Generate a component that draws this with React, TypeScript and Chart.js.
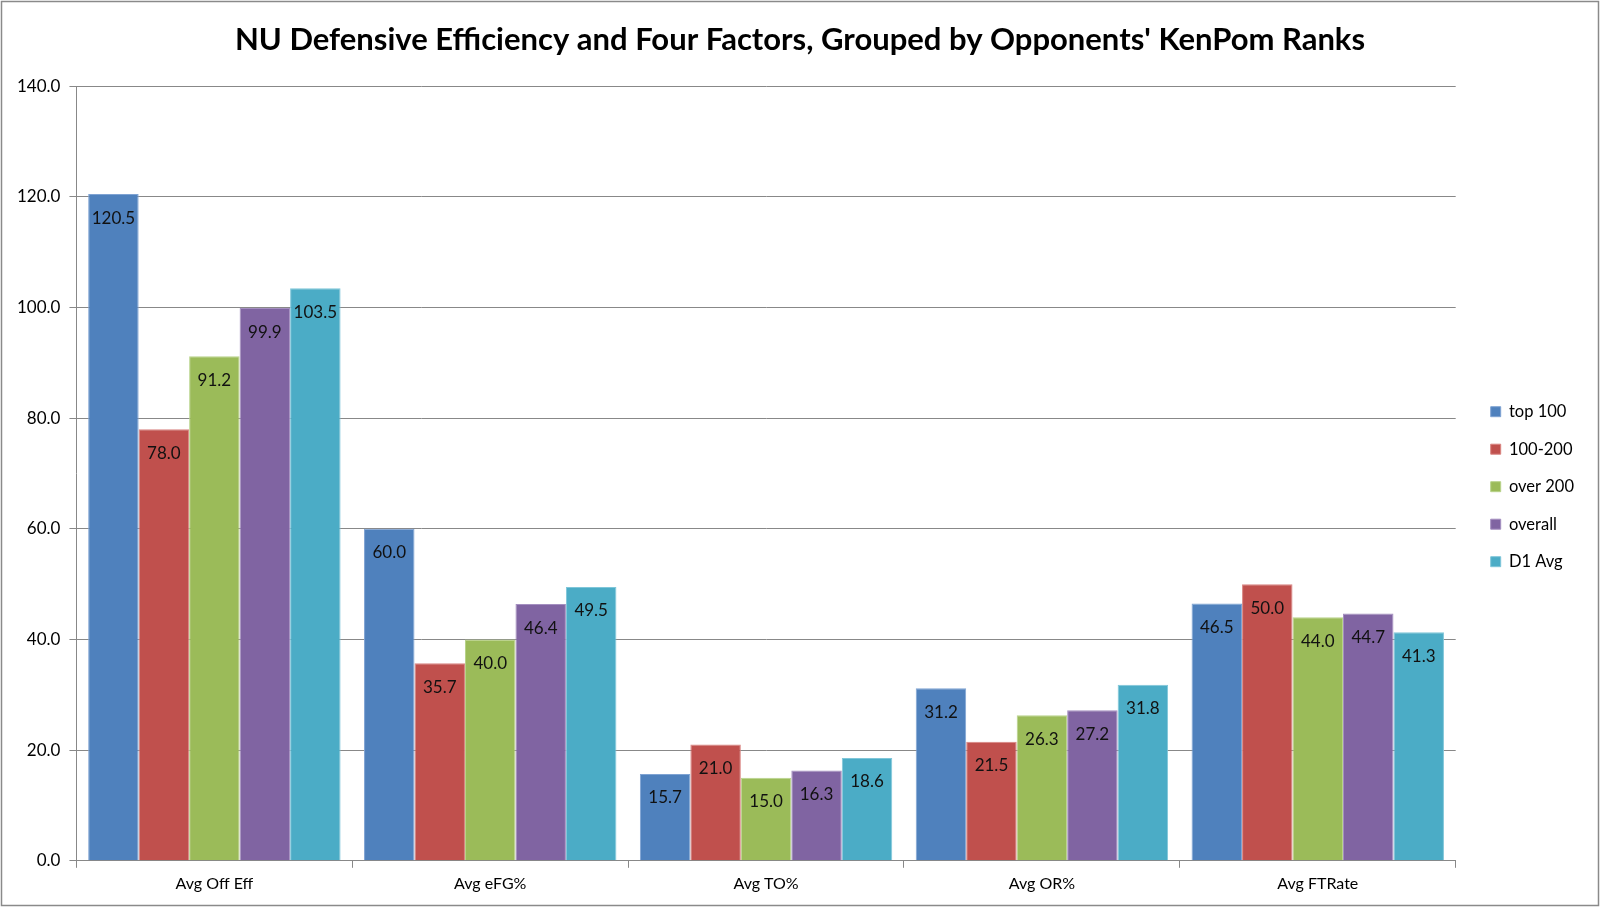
import { useEffect, useRef } from 'react';
import { Chart, registerables } from 'chart.js';

Chart.register(...registerables);

const categories = ['Avg Off Eff', 'Avg eFG%', 'Avg TO%', 'Avg OR%', 'Avg FTRate'];
const seriesNames = ['top 100', '100-200', 'over 200', 'overall', 'D1 Avg'];
const top100 = [120.5, 60.0, 15.7, 31.2, 46.5];
const mid100to200 = [78.0, 35.7, 21.0, 21.5, 50.0];
const over200 = [91.2, 40.0, 15.0, 26.3, 44.0];
const overall = [99.9, 46.4, 16.3, 27.2, 44.7];
const d1Avg = [103.5, 49.5, 18.6, 31.8, 41.3];
const colors = ['#4F81BD', '#C0504D', '#9BBB59', '#8064A2', '#4BACC6'];
const edgeColors = ['#7FA3D3', '#D98481', '#B8D38A', '#A48FC0', '#7FC6D9'];

const FONT = 'Lato, "Open Sans", sans-serif';

// value labels drawn just below the top of each bar
const barLabels = {
  id: 'barLabels',
  afterDatasetsDraw(chart: Chart) {
    const ctx = chart.ctx;
    ctx.save();
    ctx.font = `17px ${FONT}`;
    ctx.fillStyle = '#111';
    ctx.textAlign = 'center';
    ctx.textBaseline = 'middle';
    chart.data.datasets.forEach((ds, i) => {
      chart.getDatasetMeta(i).data.forEach((bar: any, j) => {
        const v = ds.data[j] as number;
        ctx.fillText(v.toFixed(1), bar.x, bar.y + 24);
      });
    });
    ctx.restore();
  },
};

// nudge legend right and centre the title on the whole canvas, like the original
const boxShift = {
  id: 'boxShift',
  afterUpdate(chart: Chart) {
    const lg: any = (chart as any).legend;
    if (lg) {
      lg.left += 14;
      lg.right += 14;
    }
    const t: any = (chart as any).titleBlock;
    if (t) {
      t.left += 11;
      t.right += 11;
    }
  },
};

const frame = {
  id: 'frame',
  afterDraw(chart: Chart) {
    const ctx = chart.ctx;
    ctx.save();
    ctx.strokeStyle = '#8a8a8a';
    ctx.lineWidth = 1.5;
    ctx.strokeRect(1.5, 1.5, chart.width - 3, chart.height - 3);
    ctx.restore();
  },
};

export default function App() {
  const canvasRef = useRef<HTMLCanvasElement>(null);
  const chartRef = useRef<Chart | null>(null);

  useEffect(() => {
    document.body.style.margin = '0';
    if (!canvasRef.current) return;
    if (chartRef.current) chartRef.current.destroy();

    const series = [top100, mid100to200, over200, overall, d1Avg];

    chartRef.current = new Chart(canvasRef.current, {
      type: 'bar',
      data: {
        labels: categories,
        datasets: series.map((data, i) => ({
          label: seriesNames[i],
          data,
          backgroundColor: colors[i],
          borderColor: edgeColors[i],
          borderWidth: 1,
          barPercentage: 1,
          categoryPercentage: 0.915,
        })),
      },
      options: {
        responsive: true,
        maintainAspectRatio: false,
        animation: false,
        layout: { padding: { left: 8, right: 30, top: 8, bottom: 8 } },
        plugins: {
          title: {
            display: true,
            text: "NU Defensive Efficiency and Four Factors, Grouped by Opponents' KenPom Ranks",
            color: '#000',
            font: { family: FONT, size: 31, weight: 'bold' },
            padding: { top: 13, bottom: 28 },
          },
          legend: {
            position: 'right',
            title: { display: true, text: ' ', font: { size: 2 }, padding: { top: 32, bottom: 32 } },
            labels: {
              boxWidth: 10,
              boxHeight: 10,
              padding: 21,
              color: '#000',
              font: { family: FONT, size: 16.5 },
            },
          },
          tooltip: { enabled: false },
        },
        scales: {
          x: {
            grid: {
              display: true,
              offset: true,
              drawOnChartArea: false,
              drawTicks: true,
              tickLength: 7,
              color: '#888',
            },
            border: { color: '#888' },
            ticks: { color: '#000', padding: 6, font: { family: FONT, size: 16 } },
          },
          y: {
            min: 0,
            max: 140,
            ticks: {
              stepSize: 20,
              color: '#000',
              padding: 9,
              font: { family: FONT, size: 17 },
              callback: (v) => Number(v).toFixed(1),
            },
            grid: { color: '#888', tickLength: 7 },
            border: { color: '#888' },
          },
        },
      },
      plugins: [barLabels, boxShift, frame],
    });

    return () => {
      if (chartRef.current) {
        chartRef.current.destroy();
        chartRef.current = null;
      }
    };
  }, []);

  return (
    <div style={{ width: '1600px', height: '907px', position: 'relative', background: '#fff' }}>
      <canvas ref={canvasRef}></canvas>
    </div>
  );
}
